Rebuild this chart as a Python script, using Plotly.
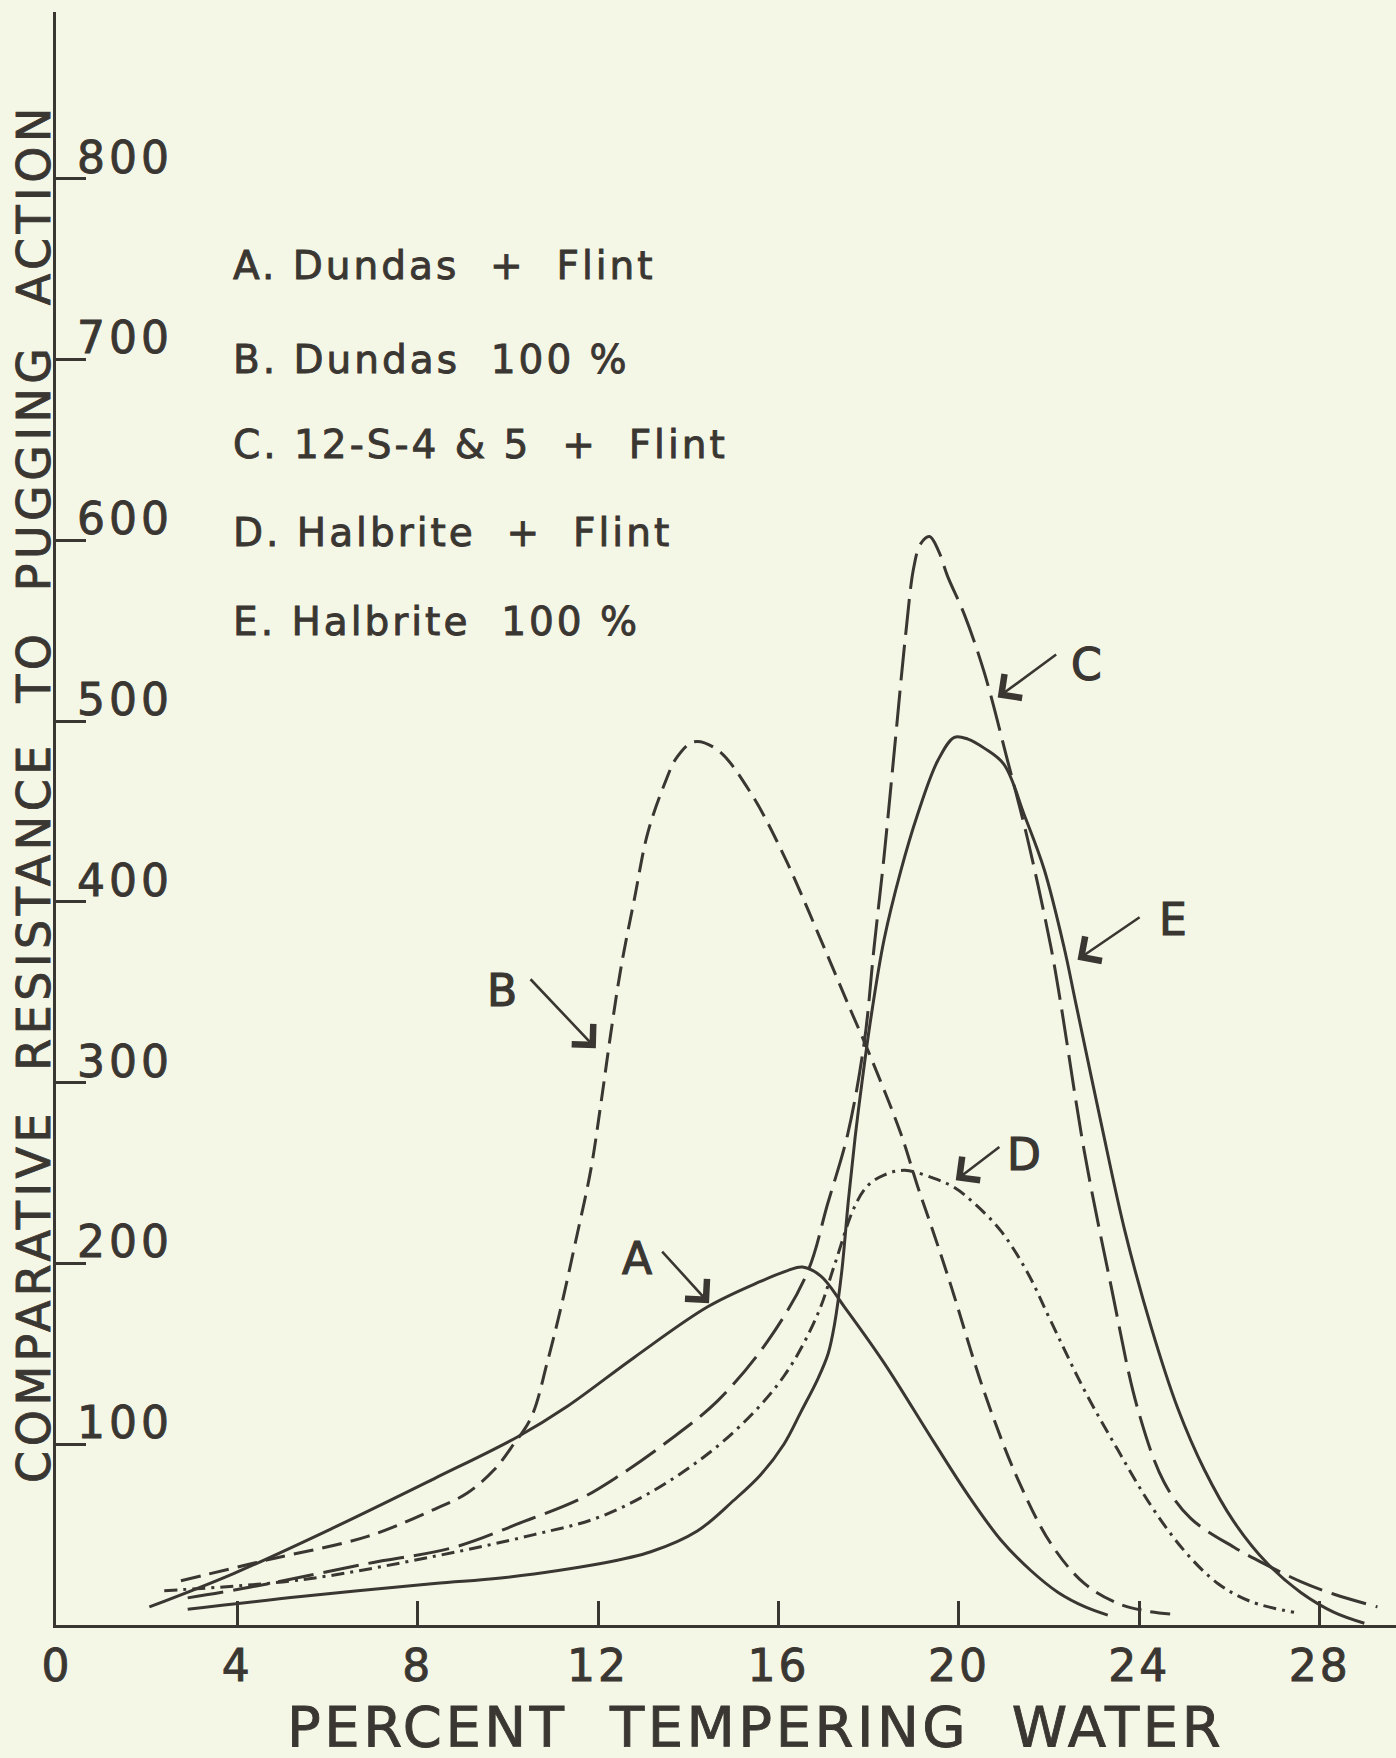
import plotly.graph_objects as go

# Pugging resistance curves read against percent tempering water
a_x = [2.05, 3.93, 6.15, 8.37, 10.21, 11.32, 12.8, 14.43, 15.6, 16.2, 16.53, 16.94, 17.46, 18.34, 19.45, 20.2, 20.93, 21.6, 22.2, 22.8, 23.3]
a_y = [10, 28.6, 54, 81, 104, 121, 148, 176, 190, 196, 198, 193, 176, 145, 101, 72, 47, 30, 18, 10, 5.5]

b_x = [2.75, 4.67, 6.89, 8.37, 9.1, 9.7, 10.07, 10.52, 10.88, 11.18, 11.5, 11.84, 12.06, 12.28, 12.51, 12.8, 13.1, 13.47, 13.75, 14.13, 14.65, 15.39, 16.13, 16.87, 17.6, 17.98, 18.71, 19.08, 19.45, 19.82, 20.56, 21.3, 22.04, 22.78, 23.52, 24.1, 24.7]
b_y = [24.5, 36, 49, 64, 73, 86, 98, 115, 146, 176, 212, 252, 288, 327, 364, 401, 438, 465, 480, 488.5, 484, 460, 425, 383, 340, 318, 272, 243, 216, 188, 129, 81, 45, 23, 12, 8, 6]

c_x = [2.9, 4.3, 6.89, 8.81, 10.33, 11.62, 12.43, 13.54, 14.65, 15.76, 16.64, 17.09, 17.53, 17.9, 18.12, 18.34, 18.57, 18.82, 19.0, 19.15, 19.35, 19.55, 19.75, 20.12, 20.56, 21.08, 21.52, 22.04, 22.25, 22.78, 23.37, 23.96, 24.55, 25.14, 26.1, 26.84, 27.58, 28.32, 29.28]
c_y = [15, 21, 34, 43, 57, 70, 82, 101.5, 124, 157, 195, 233, 271, 322, 375, 425, 484, 548, 585, 598, 602, 594, 580, 559, 527, 478, 435, 375, 345, 262, 188, 120, 79, 59, 43, 33, 24, 17, 10]

d_x = [2.38, 5.41, 8.37, 10.58, 12.06, 13.54, 15.02, 16.13, 16.87, 17.24, 17.68, 17.98, 18.35, 18.8, 19.45, 19.9, 20.35, 20.93, 21.52, 22.04, 22.78, 23.52, 24.26, 25.0, 25.74, 26.47, 27.43]
d_y = [19, 25, 38, 50, 60, 79, 107, 138, 172, 199, 231, 243, 249, 251.5, 247, 242, 233, 218, 195, 168, 130, 97, 66, 41, 23, 13, 7]

e_x = [2.9, 5.41, 8.37, 9.84, 12.06, 13.17, 14.2, 15.01, 15.6, 16.12, 16.5, 16.87, 17.1, 17.24, 17.4, 17.55, 17.7, 17.85, 18.05, 18.34, 18.71, 19.08, 19.53, 19.9, 20.2, 20.56, 21.0, 21.45, 21.89, 22.33, 22.6, 23.15, 23.67, 24.26, 24.85, 25.44, 26.1, 26.84, 27.58, 28.32, 28.99]
e_y = [8.7, 15.7, 23, 26, 34, 40.5, 52, 69, 83, 100, 118, 136, 150, 166, 195, 235, 270, 300, 336, 379, 417, 448, 478, 491, 490, 485, 476, 448, 418, 375, 343, 278, 219, 165, 120, 86, 57, 34, 18, 7, 1]

series_names = ["A", "B", "C", "D", "E"]
legend_lines = [
    "A. Dundas  +  Flint",
    "B. Dundas  100 %",
    "C. 12-S-4 & 5  +  Flint",
    "D. Halbrite  +  Flint",
    "E. Halbrite  100 %",
]
legend_y = [751.7, 699.7, 652.7, 604.0, 554.8]

x_ticks = [0, 4, 8, 12, 16, 20, 24, 28]
y_ticks = [100, 200, 300, 400, 500, 600, 700, 800]

# letter tags with arrows: (label x, label y, tail x, tail y, tip x, tip y)
tag_pos = {
    "A": (12.87, 202.7, 13.39, 207.4, 14.46, 178),
    "B": (9.88, 351, 10.47, 358, 11.95, 319),
    "C": (22.82, 531, 22.19, 537.4, 20.86, 513),
    "D": (21.45, 260, 20.93, 265, 19.93, 246),
    "E": (24.75, 390, 24.04, 392, 22.63, 368),
}

INK = "#3a3632"
PAPER = "#f5f7e6"
FONT = "DejaVu Sans"


def lettered(text, spacing, stroke=0.9):
    # wide, slightly heavier lettering
    return ('<span style="letter-spacing:%spx;stroke:%s;stroke-width:%spx">%s</span>'
            % (spacing, INK, stroke, text))


styles = {
    "A": "solid",
    "B": "20px,9px",
    "C": "36px,10px",
    "D": "13px,6px,3px,6px",
    "E": "solid",
}
data = {"A": (a_x, a_y), "B": (b_x, b_y), "C": (c_x, c_y), "D": (d_x, d_y), "E": (e_x, e_y)}

fig = go.Figure()
for name in series_names:
    xs, ys = data[name]
    fig.add_trace(go.Scatter(
        x=xs, y=ys, mode="lines", name=name,
        line=dict(color=INK, width=3, dash=styles[name], shape="spline", smoothing=1.0),
        hoverinfo="skip", showlegend=False,
    ))

annotations = []
for text, yv in zip(legend_lines, legend_y):
    annotations.append(dict(
        x=3.85, y=yv, xref="x", yref="y", text=lettered(text, 3), showarrow=False,
        xanchor="left", yanchor="middle",
        font=dict(family=FONT, size=39, color=INK),
    ))

for v in y_ticks:
    annotations.append(dict(
        x=0, y=v, xref="x", yref="y", text=lettered(str(v), 4), showarrow=False,
        xanchor="left", yanchor="bottom", xshift=18, yshift=-6,
        font=dict(family=FONT, size=44, color=INK),
    ))

for name in series_names:
    lx, ly, tx, ty, px, py = tag_pos[name]
    annotations.append(dict(
        x=lx, y=ly, xref="x", yref="y", text=lettered(name, 0, 1.2), showarrow=False,
        xanchor="center", yanchor="middle",
        font=dict(family=FONT, size=44, color=INK),
    ))
    annotations.append(dict(
        x=px, y=py, ax=tx, ay=ty, xref="x", yref="y", axref="x", ayref="y",
        text="", showarrow=True, arrowhead=4, arrowsize=2.2, arrowwidth=2.6,
        arrowcolor=INK, standoff=0, startstandoff=0,
    ))

annotations.append(dict(
    x=-0.017, y=0.516, xref="paper", yref="paper",
    text=lettered("COMPARATIVE\u00a0 RESISTANCE\u00a0 TO\u00a0 PUGGING\u00a0 ACTION", 4.5),
    textangle=-90, showarrow=False, xanchor="center", yanchor="middle",
    font=dict(family=FONT, size=46, color=INK),
))
annotations.append(dict(
    x=0.522, y=-0.0632, xref="paper", yref="paper",
    text=lettered("PERCENT\u00a0 TEMPERING\u00a0 WATER", 3.5),
    showarrow=False, xanchor="center", yanchor="middle",
    font=dict(family=FONT, size=56, color=INK),
))

fig.update_layout(
    width=1396, height=1758,
    margin=dict(l=56, r=0, t=12, b=133),
    paper_bgcolor=PAPER, plot_bgcolor=PAPER,
    annotations=annotations,
    showlegend=False,
)
fig.update_xaxes(
    range=[-0.02, 1340 / 45.1 - 0.02], showgrid=False, zeroline=False,
    showline=True, linecolor=INK, linewidth=3,
    tickvals=x_ticks, ticktext=[lettered(str(v), 3) for v in x_ticks],
    ticks="inside", ticklen=24, tickwidth=2.5, tickcolor=INK,
    tickfont=dict(family=FONT, size=44, color=INK),
)
fig.update_yaxes(
    range=[0, 1613 / 1.808], showgrid=False, zeroline=False,
    showline=True, linecolor=INK, linewidth=3,
    tickvals=y_ticks, showticklabels=False,
    ticks="inside", ticklen=30, tickwidth=2.5, tickcolor=INK,
)

fig.write_html("out.html")
